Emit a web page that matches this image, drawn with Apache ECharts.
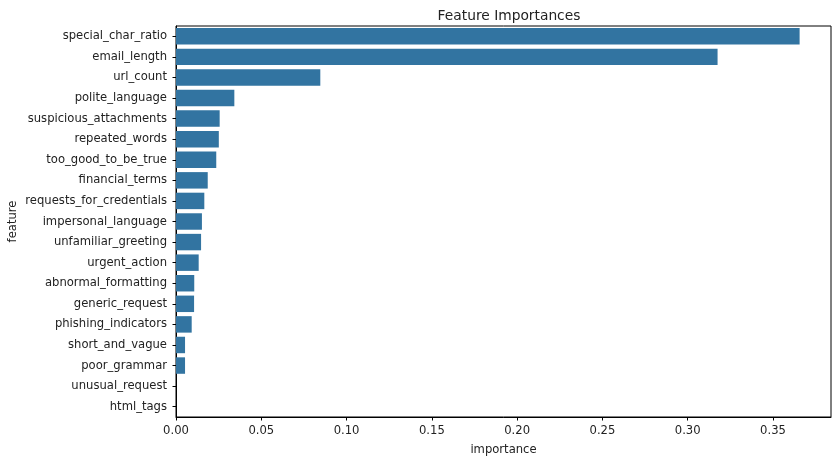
<!DOCTYPE html>
<html>
<head>
<meta charset="utf-8">
<script src="https://cdn.jsdelivr.net/npm/echarts@6/dist/echarts.min.js"></script>
<style>
  html, body { margin: 0; padding: 0; background: #fff; }
  #main { width: 837px; height: 460px; }
</style>
</head>
<body>
<div id="main"></div>
<script>
// features, sorted by importance (top to bottom)
const features = [
  'special_char_ratio', 'email_length', 'url_count', 'polite_language',
  'suspicious_attachments', 'repeated_words', 'too_good_to_be_true',
  'financial_terms', 'requests_for_credentials', 'impersonal_language',
  'unfamiliar_greeting', 'urgent_action', 'abnormal_formatting',
  'generic_request', 'phishing_indicators', 'short_and_vague',
  'poor_grammar', 'unusual_request', 'html_tags'
];
const importance = [
  0.3656, 0.3175, 0.0846, 0.0342,
  0.0256, 0.0251, 0.0236,
  0.0186, 0.0166, 0.0152,
  0.0147, 0.0133, 0.0107,
  0.0106, 0.0092, 0.0053,
  0.0053, 0.0, 0.0
];

const font = 'DejaVu Sans';
const ink = '#222';
const myChart = echarts.init(document.getElementById('main'));
const option = {
  animation: false,
  textStyle: { fontFamily: font },
  title: {
    text: 'Feature Importances',
    left: 504,
    top: 4,
    textAlign: 'center',
    textStyle: { fontFamily: font, fontSize: 13.8, fontWeight: 'normal', color: ink }
  },
  grid: {
    left: 176, right: 6, top: 26, bottom: 43,
    outerBoundsMode: 'none',
    show: true, borderColor: '#000', borderWidth: 1, backgroundColor: 'transparent'
  },
  xAxis: {
    type: 'value',
    min: 0, max: 0.384, interval: 0.05,
    name: 'importance', nameLocation: 'middle', nameGap: 27,
    nameMoveOverlap: false,
    nameTextStyle: { fontFamily: font, fontSize: 11.6, color: ink },
    axisLine: { show: true, lineStyle: { color: '#000', width: 1 } },
    axisTick: { show: true, length: 3.5, lineStyle: { color: '#000' } },
    axisLabel: {
      fontFamily: font, fontSize: 11.6, color: ink, margin: 8,
      showMaxLabel: false,
      formatter: v => v.toFixed(2)
    },
    splitLine: { show: false }
  },
  yAxis: {
    type: 'category',
    data: features,
    inverse: true,
    name: 'feature', nameLocation: 'middle', nameGap: 157, nameRotate: 90,
    nameMoveOverlap: false,
    nameTextStyle: { fontFamily: font, fontSize: 11.6, color: ink },
    axisLine: { show: true, lineStyle: { color: '#000', width: 1 } },
    axisTick: { show: true, alignWithLabel: true, length: 3.5, lineStyle: { color: '#000' } },
    axisLabel: { fontFamily: font, fontSize: 11.6, color: ink, margin: 9 }
  },
  series: [{
    type: 'bar',
    data: importance,
    barCategoryGap: '20%',
    itemStyle: { color: '#3274a1' }
  }]
};
myChart.setOption(option);
</script>
</body>
</html>
